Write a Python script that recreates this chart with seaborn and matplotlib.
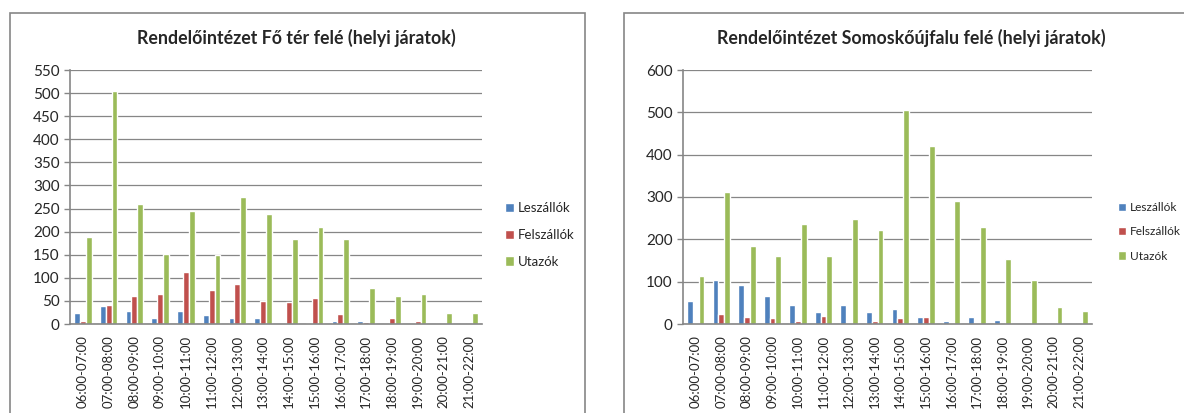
import pandas as pd
import numpy as np
import matplotlib
matplotlib.use("Agg")
import matplotlib.pyplot as plt
import seaborn as sns
from matplotlib.patches import Patch, Rectangle

# Time slots (categories on the x axis)
slots = ["06:00-07:00", "07:00-08:00", "08:00-09:00", "09:00-10:00",
         "10:00-11:00", "11:00-12:00", "12:00-13:00", "13:00-14:00",
         "14:00-15:00", "15:00-16:00", "16:00-17:00", "17:00-18:00",
         "18:00-19:00", "19:00-20:00", "20:00-21:00", "21:00-22:00"]
series = ["Leszállók", "Felszállók", "Utazók"]

# Left chart: towards Fő tér
fo_le = [24, 40, 29, 12, 29, 19, 14, 12, 0, 2, 6, 6, 0, 0, 0, 0]
fo_fel = [6, 42, 60, 65, 112, 74, 86, 50, 47, 57, 22, 4, 12, 6, 0, 0]
fo_ut = [189, 504, 260, 151, 244, 150, 275, 238, 184, 210, 184, 78, 60, 65, 24, 24]

# Right chart: towards Somoskőújfalu
so_le = [55, 103, 91, 66, 46, 29, 46, 29, 35, 16, 7, 16, 9, 0, 0, 0]
so_fel = [3, 24, 16, 13, 7, 18, 3, 6, 13, 16, 3, 3, 0, 0, 0, 0]
so_ut = [114, 311, 185, 160, 236, 160, 249, 221, 505, 421, 291, 229, 153, 105, 40, 30]

colors = ["#4F81BD", "#C0504D", "#9BBB59"]
GRID = "#868686"


def long_df(le, fel, ut):
    # seaborn wants long format: one row per bar
    rows = []
    for name, vals in zip(series, [le, fel, ut]):
        for s, v in zip(slots, vals):
            rows.append({"Idő": s, "Sorozat": name, "Érték": v})
    return pd.DataFrame(rows)


sns.set_style("white")
plt.rcParams["font.family"] = ["Lato", "DejaVu Sans"]

fig = plt.figure(figsize=(11.84, 4.13), dpi=100)
W, H = 1184, 413

# Excel-like chart area frames
fig.patches.append(Rectangle((10 / W, -0.1), 575 / W, 1.1 - 13 / H, transform=fig.transFigure,
                             fill=False, edgecolor=GRID, linewidth=1.2, zorder=0))
fig.patches.append(Rectangle((624 / W, -0.1), 0.6, 1.1 - 13 / H, transform=fig.transFigure,
                             fill=False, edgecolor=GRID, linewidth=1.2, zorder=0))

panels = [
    dict(rect=[70 / W, 1 - 324 / H, 412 / W, 254 / H], data=(fo_le, fo_fel, fo_ut),
         ymax=550, step=50, title="Rendelőintézet Fő tér felé (helyi járatok)", tx=296 / W,
         leg=(505 / W, 1 - 235 / H), fs=9.5),
    dict(rect=[683 / W, 1 - 324 / H, 409 / W, 254 / H], data=(so_le, so_fel, so_ut),
         ymax=600, step=100, title="Rendelőintézet Somoskőújfalu felé (helyi járatok)", tx=911 / W,
         leg=(1118 / W, 1 - 232 / H), fs=8.6),
]

for p in panels:
    ax = fig.add_axes(p["rect"])
    df = long_df(*p["data"])
    sns.barplot(data=df, x="Idő", y="Érték", hue="Sorozat", hue_order=series,
                palette=colors, saturation=1, width=0.68, ax=ax, legend=False)
    ax.set_xlim(-0.5, len(slots) - 0.5)
    ax.set_ylim(0, p["ymax"])
    ax.set_yticks(np.arange(0, p["ymax"] + 1, p["step"]))
    ax.set_xlabel("")
    ax.set_ylabel("")
    ax.yaxis.grid(True, color=GRID, linewidth=0.9)
    ax.set_axisbelow(True)
    for side in ["top", "right"]:
        ax.spines[side].set_visible(False)
    for side in ["left", "bottom"]:
        ax.spines[side].set_color(GRID)
        ax.spines[side].set_linewidth(1.2)
    # ticks sit between categories like in Excel
    ax.set_xticks(np.arange(-0.5, len(slots)), minor=True)
    ax.tick_params(axis="x", which="major", length=0, labelsize=9.5, labelrotation=90, pad=8)
    ax.tick_params(axis="x", which="minor", length=4, color=GRID, width=1)
    ax.tick_params(axis="y", length=4, color=GRID, width=1, labelsize=11, left=True)
    fig.text(p["tx"], 1 - 38 / H, p["title"], ha="center", va="center",
             fontsize=12.8, fontweight="bold")
    handles = [Patch(facecolor=c, label=s) for c, s in zip(colors, series)]
    ax.legend(handles=handles, loc="center left", bbox_to_anchor=p["leg"],
              bbox_transform=fig.transFigure, frameon=False, fontsize=p["fs"],
              borderaxespad=0, borderpad=0,
              handlelength=0.7, handleheight=0.7, handletextpad=0.3, labelspacing=1.1)

fig.savefig("out.png", dpi=100)
